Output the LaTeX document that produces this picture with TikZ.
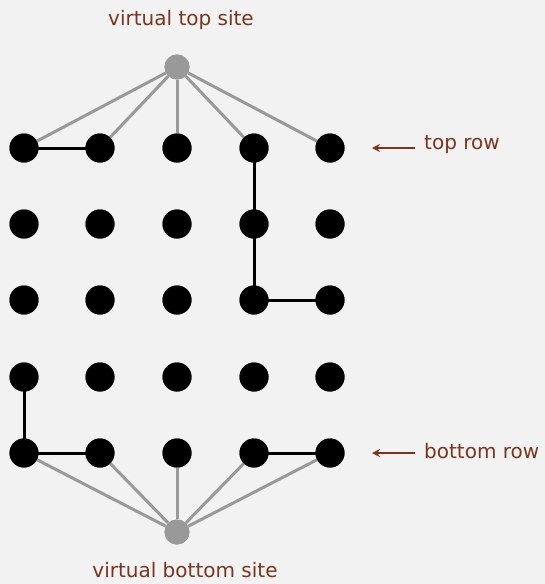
\documentclass[tikz,border=0pt]{standalone}
\usepackage{fontspec}
\setmainfont{DejaVu Sans}
\usetikzlibrary{arrows.meta}
\definecolor{bg}{HTML}{F2F2F2}
\definecolor{brownlab}{HTML}{7A3520}
\definecolor{virt}{HTML}{999999}
\tikzset{
  site/.style={circle, fill=black, minimum size=29pt, inner sep=0pt},
  vsite/.style={circle, fill=virt, minimum size=25pt, inner sep=0pt},
  open/.style={line width=3pt, black},
  link/.style={line width=3pt, virt},
  caption/.style={text=brownlab, inner sep=0pt, font=\fontsize{20}{22}\selectfont},
  pointer/.style={draw=brownlab, line width=2.2pt, -{Stealth[length=8pt,width=8pt]}}
}
\begin{document}
\begin{tikzpicture}[x=1pt,y=-1pt]
  \fill[bg] (0,0) rectangle (545,584);
  \useasboundingbox (0,0) rectangle (545,584);
  % virtual sites
  \node[vsite] (top) at (177,67) {};
  \node[vsite] (bot) at (177,532) {};
  % grid of sites
  \foreach \c/\x in {0/24,1/100,2/177,3/254,4/330}
    \foreach \r/\y in {0/148,1/224,2/300,3/377,4/453}
      \node[site] (s\r\c) at (\x,\y) {};
  % links to virtual sites
  \foreach \c in {0,...,4} {
    \draw[link] (top) -- (s0\c.center);
    \draw[link] (bot) -- (s4\c.center);
  }
  % open connections
  \draw[open] (s00.center) -- (s01.center);
  \draw[open] (s03.center) -- (s13.center) -- (s23.center) -- (s24.center);
  \draw[open] (s30.center) -- (s40.center) -- (s41.center);
  \draw[open] (s43.center) -- (s44.center);
  % redraw sites on top of links
  \foreach \c/\x in {0/24,1/100,2/177,3/254,4/330}
    \foreach \r/\y in {0/148,1/224,2/300,3/377,4/453}
      \node[site] at (\x,\y) {};
  \node[vsite] at (177,67) {};
  \node[vsite] at (177,532) {};
  % captions
  \node[caption] (ttop) at (181,20) {virtual top site};
  \node[caption] (tbot) at (185,570) {virtual bottom site};
  \node[caption, anchor=west] (trow) at (424,145) {top row};
  \node[caption, anchor=west] (brow) at (424,451) {bottom row};
  \coordinate (ta) at (372,148);
  \coordinate (ba) at (372,453);
  \coordinate (tstart) at (415,148);
  \coordinate (bstart) at (415,453);
  \draw[pointer] (tstart) -- (ta);
  \draw[pointer] (bstart) -- (ba);
\end{tikzpicture}
\end{document}
